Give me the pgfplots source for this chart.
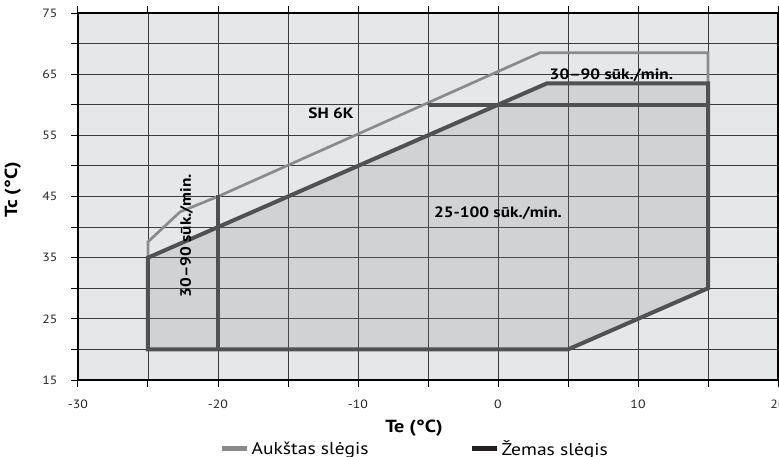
\documentclass[border=0pt]{standalone}
\usepackage{pgfplots}
\pgfplotsset{compat=1.18}
\usepackage{fontspec}
\setmainfont{PT Sans}[FakeStretch=1.15]
\definecolor{bgc}{HTML}{E6E7E8}
\definecolor{fillc}{HTML}{7D7E84}
\definecolor{darkc}{HTML}{505153}
\definecolor{lightc}{HTML}{898B8D}
\definecolor{gridc}{HTML}{3C3C3C}
\definecolor{legdark}{HTML}{231F20}
\definecolor{leglight}{HTML}{8A8A8A}
\pgfplotsset{
  myleg/.style={legend image code/.code={\draw[##1,line width=5bp] (0bp,0bp) -- (25bp,0bp);}},
}
\begin{document}
\begin{tikzpicture}
\begin{axis}[
  scale only axis, width=700bp, height=367bp,
  xmin=-30, xmax=20, ymin=15, ymax=75,
  xtick={-30,-20,...,20}, minor xtick={-25,-15,...,15},
  ytick={15,25,...,75}, minor ytick={20,30,...,70},
  grid=both,
  major grid style={draw=gridc, line width=0.9bp},
  minor grid style={draw=gridc, line width=0.9bp},
  tick align=outside,
  major tick length=7bp, minor tick length=7bp,
  tick style={black, line width=1bp},
  axis line style={black, line width=1.5bp},
  axis background/.style={fill=bgc},
  /pgf/number format/assume math mode=true,
  ticklabel style={font=\fontsize{12bp}{13bp}\selectfont, text=black!85},
  xticklabel style={yshift=-9bp},
  yticklabel style={xshift=-10bp},
  xlabel={\textbf{Te (°C)}},
  ylabel={\textbf{Tc (°C)}},
  label style={font=\fontsize{17.5bp}{18bp}\selectfont},
  xlabel style={at={(axis description cs:0.48,-0.131)}, anchor=center},
  ylabel style={at={(axis description cs:-0.093,0.518)}, anchor=center, rotate=0},
  title={\textbf{R410A}},
  title style={at={(axis description cs:0.454,1.022)}, anchor=base, font=\fontsize{16bp}{17bp}\selectfont},
  legend style={at={(axis description cs:0.481,-0.188)}, anchor=center, draw=none, fill=none,
    font=\fontsize{17bp}{18bp}\selectfont,
    /tikz/every even column/.append style={column sep=99bp}},
  legend columns=2,
  legend cell align=left,
]
% low-pressure envelope fill (translucent so that the grid shows through)
\addplot[fill=fillc, fill opacity=0.2, draw=none, forget plot] coordinates {
  (-25,20) (-25,35) (0,60) (3.5,63.5) (15,63.5) (15,30) (5,20) (-25,20)};
% high-pressure line
\addplot[lightc, line width=2.7bp, line join=miter, forget plot] coordinates {
  (15,63.5) (15,68.5) (3,68.5) (-20,45) (-22.7,42.5) (-25,37.6) (-25,35)};
% low-pressure outline
\addplot[darkc, line width=4bp, line join=miter, forget plot] coordinates {
  (-25,20) (-25,35) (0,60) (3.5,63.5) (15,63.5) (15,30) (5,20) (-25,20) (-25,35)};
\addplot[darkc, line width=4bp, forget plot] coordinates {(-20,20) (-20,45.2)};
\addplot[darkc, line width=4bp, forget plot] coordinates {(-5,60) (15,60)};
\addlegendimage{myleg, leglight}
\addlegendentry{Aukštas slėgis}
\addlegendimage{myleg, legdark}
\addlegendentry{Žemas slėgis}
\node[font=\bfseries\fontsize{15bp}{16bp}\selectfont] at (axis cs:-11.93,58.65) {SH 6K};
\node[font=\bfseries\fontsize{15bp}{16bp}\selectfont] at (axis cs:8.1,64.86) {30–90 sūk./min.};
\node[font=\bfseries\fontsize{15bp}{16bp}\selectfont] at (axis cs:0.0,42.3) {25-100 sūk./min.};
\node[font=\bfseries\fontsize{15bp}{16bp}\selectfont, rotate=90] at (axis cs:-22.24,38.6) {30–90 sūk./min.};
\end{axis}
\pgfresetboundingbox
\useasboundingbox (-78bp,-77bp) rectangle (701bp,380bp);
\end{tikzpicture}
\end{document}
